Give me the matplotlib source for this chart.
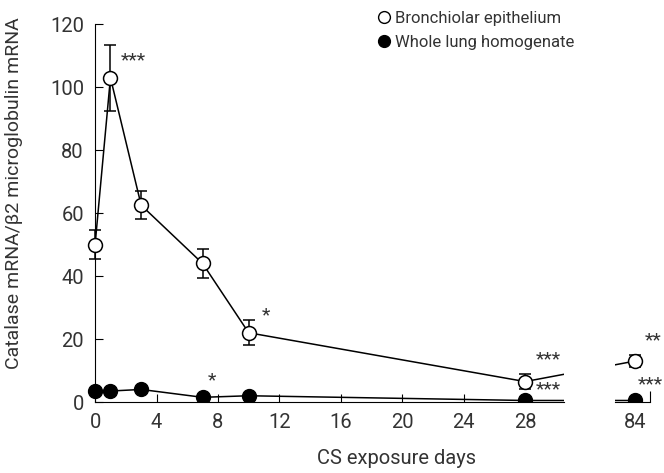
import numpy as np
import matplotlib
matplotlib.use('Agg')
import matplotlib.pyplot as plt

plt.rcParams['font.family'] = ['Roboto', 'DejaVu Sans']
TXT = '#333333'

# data
days = [0, 1, 3, 7, 10, 28, 84]
bronch = [50, 103, 62.5, 44, 22, 6.5, 13]
bronch_err = [4.5, 10.5, 4.5, 4.5, 4, 2.5, 2]
whole = [3.5, 3.5, 4, 1.5, 2, 0.5, 0.5]
bronch_sig = ['', '***', '', '', '*', '***', '**']
whole_sig = ['', '', '', '*', '', '***', '***']
xticks = [0, 4, 8, 12, 16, 20, 24, 28]

# where the star labels sit relative to their point (x days, y units)
bronch_off = [(0, 0), (1.5, 5.5), (0, 0), (0, 0), (1.1, 5.5), (1.5, 7), (1.2, 6.5)]
whole_off = [(0, 0), (0, 0), (0, 0), (0.6, 5.5), (0, 0), (1.5, 3.5), (1.0, 5)]


def pos(d):
    # compress the long gap between day 28 and day 84
    return np.where(np.asarray(d) > 28, 35.1, d)


xp = pos(days)

fig = plt.figure(figsize=(6.64, 4.73), dpi=100)
ax = fig.add_axes([0.1247, 0.150, 0.724, 0.799])
ax2 = fig.add_axes([0.926, 0.150, 0.053, 0.799])

for a, lim in ((ax, (-0.8, 30.5)), (ax2, (33.8, 36.1))):
    a.errorbar(xp, bronch, yerr=bronch_err, color='black', lw=1.1, capsize=4,
               elinewidth=1.1, marker='o', ms=10, mfc='white', mec='black',
               mew=1.1, zorder=3)
    a.plot(xp, whole, color='black', lw=1.1, marker='o', ms=10, zorder=4)
    a.set_xlim(*lim)
    a.set_ylim(0, 120)
    for s in ('top', 'right'):
        a.spines[s].set_visible(False)
    a.tick_params(direction='in', length=6, colors='black', labelcolor=TXT,
                  labelsize=14.5)

ax.spines['left'].set_position(('data', 0))
ax.spines['bottom'].set_bounds(0, 30.5)
ax.set_xticks(xticks)
ax.set_yticks(range(0, 121, 20))
ax.tick_params(axis='x', pad=8)
ax.tick_params(axis='y', pad=8)

ax2.spines['left'].set_visible(False)
ax2.set_yticks([])
ax2.set_xticks([float(pos(84)), 36.1])
ax2.set_xticklabels(['84', ''])
ax2.tick_params(axis='x', pad=8, length=8)
ax2.xaxis.get_major_ticks()[0].tick1line.set_visible(False)

# significance marks
for vals, sig, off in ((bronch, bronch_sig, bronch_off),
                       (whole, whole_sig, whole_off)):
    for d, x, y, s, (dx, dy) in zip(days, xp, vals, sig, off):
        if not s:
            continue
        a = ax2 if d > 28 else ax
        a.text(x + dx, y + dy, s, fontsize=14, color=TXT, ha='center',
               va='center', clip_on=False)

ax.set_xlabel('CS exposure days', fontsize=14.5, color=TXT)
ax.xaxis.set_label_coords(0.653, -0.125)
ax.set_ylabel('Catalase mRNA/\u03b22 microglobulin mRNA', fontsize=14,
              color=TXT)
ax.yaxis.set_label_coords(-0.125, 0.553)

ax.plot([], [], 'o', mfc='white', mec='black', ms=8.5, label='Bronchiolar epithelium')
ax.plot([], [], 'o', color='black', ms=8.5, label='Whole lung homogenate')
leg = ax.legend(loc='upper left', bbox_to_anchor=(0.585, 1.075), frameon=False,
                fontsize=12, handlelength=0.6, handletextpad=0.35,
                labelspacing=0.55)
for t in leg.get_texts():
    t.set_color(TXT)

fig.savefig('out.png', dpi=100)
